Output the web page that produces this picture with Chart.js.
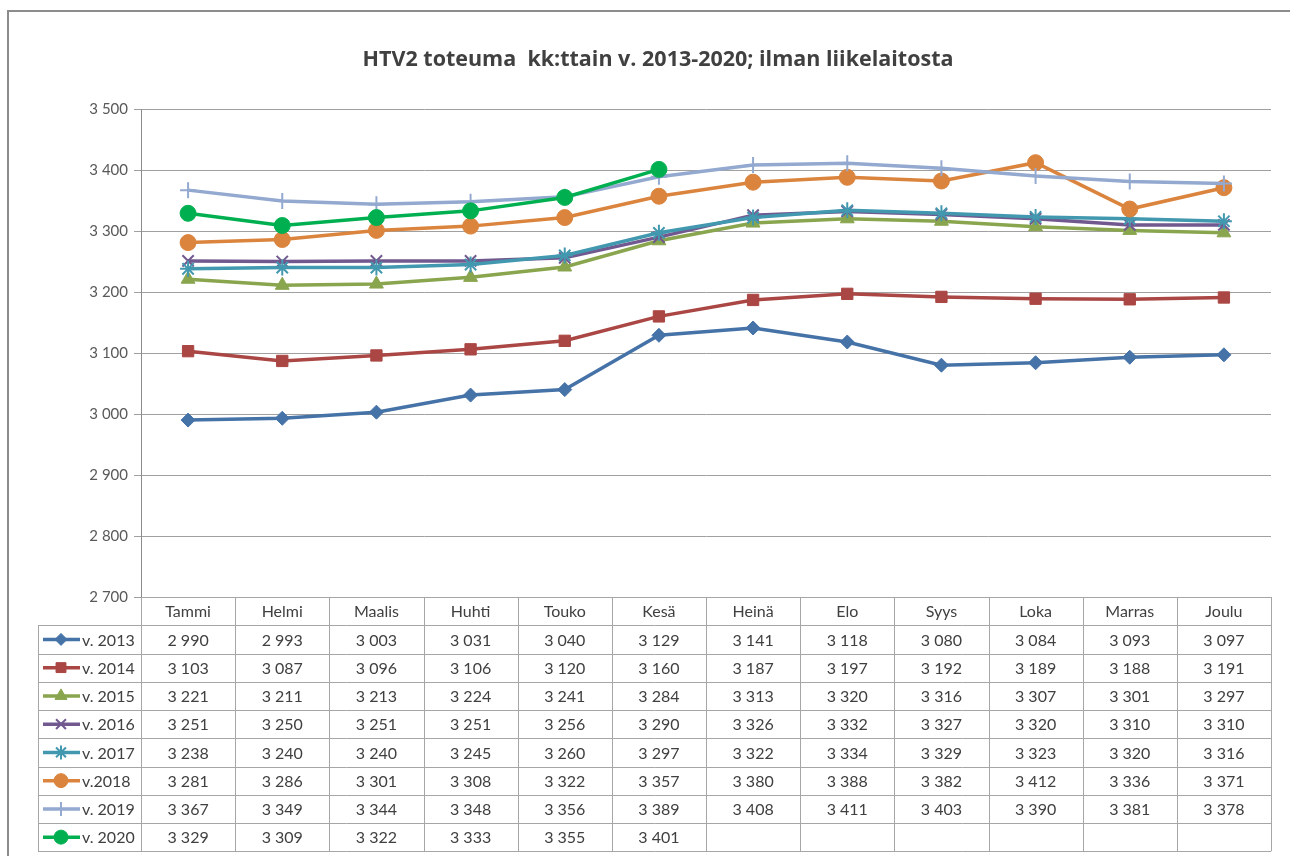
<!DOCTYPE html>
<html>
<head>
<meta charset="utf-8">
<script src="https://cdn.jsdelivr.net/npm/chart.js@4.4.1/dist/chart.umd.min.js"></script>
<style>
  html, body { margin:0; padding:0; background:#fff; }
  #wrap { position:relative; width:1290px; height:856px; }
</style>
</head>
<body>
<div id="wrap"><canvas id="c" width="1290" height="856"></canvas></div>
<script>
// HTV2 toteuma per month, 2013-2020
const months = ['Tammi','Helmi','Maalis','Huhti','Touko','Kesä','Heinä','Elo','Syys','Loka','Marras','Joulu'];
const seriesNames = ['v. 2013','v. 2014','v. 2015','v. 2016','v. 2017','v.2018','v. 2019','v. 2020'];
const v2013 = [2990,2993,3003,3031,3040,3129,3141,3118,3080,3084,3093,3097];
const v2014 = [3103,3087,3096,3106,3120,3160,3187,3197,3192,3189,3188,3191];
const v2015 = [3221,3211,3213,3224,3241,3284,3313,3320,3316,3307,3301,3297];
const v2016 = [3251,3250,3251,3251,3256,3290,3326,3332,3327,3320,3310,3310];
const v2017 = [3238,3240,3240,3245,3260,3297,3322,3334,3329,3323,3320,3316];
const v2018 = [3281,3286,3301,3308,3322,3357,3380,3388,3382,3412,3336,3371];
const v2019 = [3367,3349,3344,3348,3356,3389,3408,3411,3403,3390,3381,3378];
const v2020 = [3329,3309,3322,3333,3355,3401,null,null,null,null,null,null];
const yTicks = [2700,2800,2900,3000,3100,3200,3300,3400,3500];

const allSeries = [v2013,v2014,v2015,v2016,v2017,v2018,v2019,v2020];
const colors = ['#4572A7','#AA4643','#89A54E','#71588F','#4198AF','#DB843D','#93A9CF','#00B050'];
const styles = ['rectRot','rect','triangle','crossRot','star','circle','cross','circle'];
const radii = [7,8,8,8,8,8,8,8];

const fmt = v => v==null ? '' : Math.floor(v/1000) + ' ' + String(v%1000).padStart(3,'0');
const FONT = 'Lato, "Open Sans", sans-serif';

const datasets = allSeries.map((d,i)=>({
  label: seriesNames[i], data: d, borderColor: colors[i], backgroundColor: colors[i],
  borderWidth: 3.5, pointStyle: styles[i], pointRadius: radii[i], pointBorderWidth: (styles[i]==='crossRot'||styles[i]==='star'||styles[i]==='cross') ? 2 : 1,
  pointBorderColor: colors[i], pointBackgroundColor: colors[i], tension: 0, order: 7 - i, spanGaps: false
}));

const TOP_ROW = 597, ROW_H = 28.25, LEG_LEFT = 38;

const tablePlugin = {
  id: 'tablePlugin',
  beforeDraw(chart){
    const ctx = chart.ctx;
    ctx.save();
    ctx.strokeStyle = '#8c8c8c'; ctx.lineWidth = 2;
    ctx.beginPath(); ctx.moveTo(8, 856); ctx.lineTo(8, 11); ctx.lineTo(1290, 11); ctx.stroke();
    ctx.fillStyle = '#404040';
    ctx.font = 'bold 21.5px "Open Sans", sans-serif';
    ctx.textAlign = 'center'; ctx.textBaseline = 'middle';
    ctx.fillText('HTV2 toteuma  kk:ttain v. 2013-2020; ilman liikelaitosta', 658, 60);
    ctx.restore();
  },
  afterDraw(chart){
    const ctx = chart.ctx, x = chart.scales.x, area = chart.chartArea;
    const colW = (area.right - area.left) / months.length;
    const nRows = seriesNames.length;
    const bottom = TOP_ROW + ROW_H * (nRows + 1);
    ctx.save();
    ctx.strokeStyle = '#a6a6a6'; ctx.lineWidth = 1;
    ctx.beginPath();
    for (let r = 0; r <= nRows + 1; r++) {
      const y = Math.round(TOP_ROW + ROW_H * r) + 0.5;
      ctx.moveTo(r === 0 ? area.left : LEG_LEFT, y); ctx.lineTo(area.right, y);
    }
    for (let c = 0; c <= months.length; c++) {
      const xx = Math.round(area.left + colW * c) + 0.5;
      ctx.moveTo(xx, TOP_ROW); ctx.lineTo(xx, bottom);
    }
    ctx.moveTo(LEG_LEFT + 0.5, TOP_ROW + ROW_H); ctx.lineTo(LEG_LEFT + 0.5, bottom);
    ctx.stroke();

    ctx.fillStyle = '#404040';
    ctx.font = '16px ' + FONT;
    ctx.textAlign = 'center'; ctx.textBaseline = 'middle';
    months.forEach((m,i)=> ctx.fillText(m, x.getPixelForValue(i), TOP_ROW + ROW_H/2 + 1));
    allSeries.forEach((d,r)=>{
      const cy = TOP_ROW + ROW_H * (r + 1) + ROW_H/2 + 1;
      ctx.textAlign = 'center';
      ctx.fillStyle = '#404040';
      d.forEach((v,i)=> ctx.fillText(fmt(v), x.getPixelForValue(i), cy));
      // legend key
      ctx.strokeStyle = colors[r]; ctx.fillStyle = colors[r]; ctx.lineWidth = 3.5;
      ctx.beginPath(); ctx.moveTo(43, cy - 1); ctx.lineTo(80, cy - 1); ctx.stroke();
      ctx.lineWidth = datasets[r].pointBorderWidth;
      Chart.helpers.drawPoint(ctx, { pointStyle: styles[r], radius: radii[r] - 1, rotation: 0, borderWidth: datasets[r].pointBorderWidth }, 61, cy - 1);
      ctx.fillStyle = '#404040';
      ctx.textAlign = 'left';
      ctx.fillText(seriesNames[r], 82, cy);
    });
    ctx.restore();
  }
};

new Chart(document.getElementById('c'), {
  type: 'line',
  data: { labels: months, datasets },
  plugins: [tablePlugin],
  options: {
    responsive: false, animation: false,
    layout: { padding: { top: 109, right: 19, bottom: 856 - TOP_ROW, left: 0 } },
    plugins: { legend: { display: false }, tooltip: { enabled: false }, title: { display: false } },
    scales: {
      x: { display: false, offset: true },
      y: {
        min: 2700, max: 3500,
        afterBuildTicks: s => { s.ticks = yTicks.map(v => ({ value: v })); },
        afterFit: s => { s.width = 141; },
        border: { color: '#8c8c8c', width: 1 },
        grid: { color: '#a0a0a0', lineWidth: 1, tickLength: 7, drawTicks: true },
        ticks: { color: '#595959', font: { family: FONT, size: 15 }, padding: 6, callback: v => fmt(v) }
      }
    }
  }
});
</script>
</body>
</html>
